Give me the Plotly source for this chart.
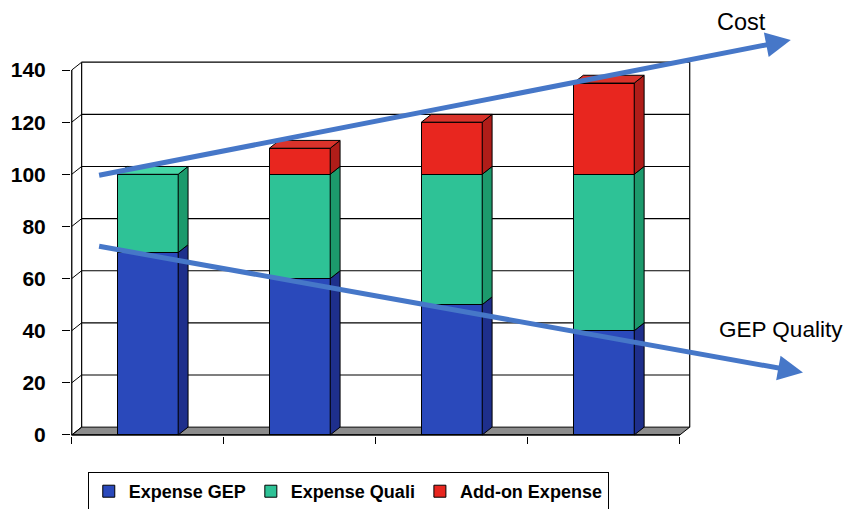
import plotly.graph_objects as go

# ---- data ----
categories = [0, 1, 2, 3]
expense_gep = [70, 60, 50, 40]
expense_quali = [30, 40, 50, 60]
addon_expense = [0, 10, 20, 35]
y_ticks = [0, 20, 40, 60, 80, 100, 120, 140]
cost_arrow = [(-0.33, 99.5), (4.23, 151.5)]
quality_arrow = [(-0.33, 72.5), (4.31, 24.0)]

series = [
    ("Expense GEP", expense_gep, "#2a49bb", "#1e2f8c", "#3a5ccc"),
    ("Expense Quali", expense_quali, "#2ec296", "#1c9a6c", "#45d6a6"),
    ("Add-on Expense", addon_expense, "#e8261f", "#b01d19", "#d9332b"),
]

BAR_W = 0.4
DX = 0.065   # depth offset (x units)
DY = 3.0     # depth offset (y units)
X0, X1 = -0.5, 3.5
YMAX = 140

fig = go.Figure()

# front faces
for name, vals, front, side, top in series:
    fig.add_trace(go.Bar(
        x=categories, y=vals, name=name, width=BAR_W,
        marker=dict(color=front, line=dict(color="black", width=1)),
    ))

# side and top faces computed from the data
base = [0] * len(categories)
totals = [sum(v) for v in zip(*[s[1] for s in series])]
for name, vals, front, side, top in series:
    for i, c in enumerate(categories):
        b, t = base[i], base[i] + vals[i]
        if vals[i] > 0:
            xr = c + BAR_W / 2
            fig.add_trace(go.Scatter(
                x=[xr, xr + DX, xr + DX, xr, xr],
                y=[b, b + DY, t + DY, t, b],
                mode="lines", fill="toself", fillcolor=side,
                line=dict(color="black", width=1), showlegend=False, hoverinfo="skip"))
            if t == totals[i]:
                xl = c - BAR_W / 2
                fig.add_trace(go.Scatter(
                    x=[xl, xl + DX, xr + DX, xr, xl],
                    y=[t, t + DY, t + DY, t, t],
                    mode="lines", fill="toself", fillcolor=top,
                    line=dict(color="black", width=1), showlegend=False, hoverinfo="skip"))
        base[i] = t

# walls / floor / grid (decoration)
shapes = []
shapes.append(dict(type="path", layer="below",
                   path=f"M{X0},0 L{X1},0 L{X1+DX},{DY} L{X0+DX},{DY} Z",
                   fillcolor="#8c8c8c", line=dict(color="black", width=1), xref="x", yref="y"))
shapes.append(dict(type="line", layer="below", x0=X0 + DX, x1=X0 + DX, y0=DY, y1=YMAX + DY,
                   line=dict(color="black", width=1.2), xref="x", yref="y"))
shapes.append(dict(type="line", layer="below", x0=X1 + DX, x1=X1 + DX, y0=DY, y1=YMAX + DY,
                   line=dict(color="black", width=1.2), xref="x", yref="y"))
for v in y_ticks[1:]:
    shapes.append(dict(type="line", layer="below", x0=X0 + DX, x1=X1 + DX, y0=v + DY, y1=v + DY,
                       line=dict(color="black", width=1.2), xref="x", yref="y"))
for v in y_ticks:
    shapes.append(dict(type="line", layer="below", x0=X0, x1=X0 + DX, y0=v, y1=v + DY,
                       line=dict(color="black", width=1), xref="x", yref="y"))
# front axes lines
shapes.append(dict(type="line", x0=X0, x1=X0, y0=0, y1=YMAX,
                   line=dict(color="black", width=1.3), xref="x", yref="y"))
shapes.append(dict(type="line", x0=X0, x1=X1, y0=0, y1=0,
                   line=dict(color="black", width=1.3), xref="x", yref="y"))

arrow_color = "#4677c8"
annotations = [
    dict(x=cost_arrow[1][0], y=cost_arrow[1][1], ax=cost_arrow[0][0], ay=cost_arrow[0][1],
         xref="x", yref="y", axref="x", ayref="y", text="", showarrow=True,
         arrowhead=2, arrowsize=1, arrowwidth=5, arrowcolor=arrow_color),
    dict(x=quality_arrow[1][0], y=quality_arrow[1][1], ax=quality_arrow[0][0], ay=quality_arrow[0][1],
         xref="x", yref="y", axref="x", ayref="y", text="", showarrow=True,
         arrowhead=2, arrowsize=1, arrowwidth=5, arrowcolor=arrow_color),
    dict(x=1.080, y=1.1293, xref="paper", yref="paper", text="Cost", showarrow=False,
         xanchor="center", yanchor="top", borderpad=0,
         font=dict(family="Liberation Sans, Arial", size=23.5, color="black")),
    dict(x=1.040, y=0.280, xref="paper", yref="paper", text="GEP Quality", showarrow=False,
         xanchor="left", yanchor="middle",
         font=dict(family="Liberation Sans, Arial", size=22.5, color="black")),
]

fig.update_layout(
    width=843, height=501,
    margin=dict(l=63, r=159, t=49, b=73, autoexpand=False),
    barmode="stack",
    paper_bgcolor="white", plot_bgcolor="white",
    shapes=shapes, annotations=annotations,
    showlegend=True,
    legend=dict(orientation="h", x=0.027, xanchor="left", y=-0.095, yanchor="top",
                bordercolor="black", borderwidth=1, bgcolor="white", traceorder="normal",
                font=dict(family="Liberation Sans, Arial", size=18, color="black", weight="bold"),
                itemclick=False),
    xaxis=dict(range=[-0.505, 3.58], tickvals=[-0.5, 0.5, 1.5, 2.5, 3.5], showticklabels=False,
               ticks="outside", ticklen=7, tickcolor="black", showgrid=False, zeroline=False,
               showline=False, fixedrange=True),
    yaxis=dict(range=[-0.4, 145], tickvals=y_ticks, ticks="outside", ticklen=8, tickcolor="black",
               ticklabelstandoff=12, showgrid=False, zeroline=False, showline=False,
               tickfont=dict(family="Liberation Sans, Arial", size=21, color="black", weight="bold")),
)

fig.write_html("out.html")
